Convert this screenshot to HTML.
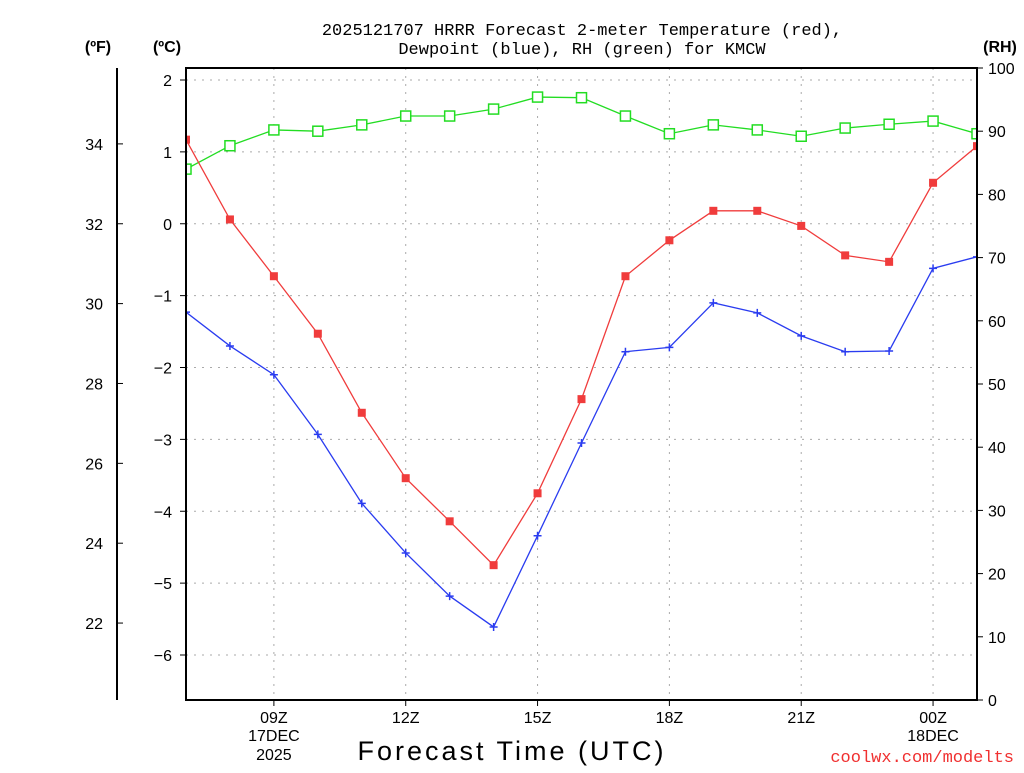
<!DOCTYPE html>
<html><head><meta charset="utf-8"><style>
body{margin:0;background:#fff}
svg text{font-family:"Liberation Sans",sans-serif}
</style></head><body>
<svg id="chart" width="1024" height="768" xmlns="http://www.w3.org/2000/svg">
<defs><clipPath id="clip"><rect x="186" y="68" width="791" height="632"/></clipPath></defs>
<g id="grid"></g>
<g id="axes"></g>
<g id="series" clip-path="url(#clip)"></g>
<rect x="186" y="68" width="791" height="632" fill="none" stroke="#000" stroke-width="2"/>
<text x="582" y="35" text-anchor="middle" font-size="17" style="font-family:'Liberation Mono',monospace">2025121707 HRRR Forecast 2-meter Temperature (red),</text>
<text x="582" y="54" text-anchor="middle" font-size="17" style="font-family:'Liberation Mono',monospace">Dewpoint (blue), RH (green) for KMCW</text>
<text x="98" y="52" text-anchor="middle" font-size="16" font-weight="bold">(ºF)</text>
<text x="167" y="52" text-anchor="middle" font-size="16" font-weight="bold">(ºC)</text>
<text x="1000" y="52" text-anchor="middle" font-size="16" font-weight="bold">(RH)</text>
<text x="512" y="760" text-anchor="middle" font-size="27" letter-spacing="3">Forecast Time (UTC)</text>
<text x="1014" y="762" text-anchor="end" font-size="17" fill="#f03030" style="font-family:'Liberation Mono',monospace">coolwx.com/modelts</text>
</svg>
<script>
const hours=[0,1,2,3,4,5,6,7,8,9,10,11,12,13,14,15,16,17,18];
const tempC=[1.17,0.06,-0.73,-1.53,-2.63,-3.54,-4.14,-4.75,-3.75,-2.44,-0.73,-0.23,0.18,0.18,-0.03,-0.44,-0.53,0.57,1.08];
const dewC=[-1.23,-1.70,-2.10,-2.93,-3.89,-4.58,-5.18,-5.61,-4.34,-3.05,-1.78,-1.72,-1.10,-1.24,-1.56,-1.78,-1.77,-0.62,-0.46];
const rh=[84.0,87.7,90.2,90.0,91.0,92.4,92.4,93.5,95.4,95.3,92.4,89.6,91.0,90.2,89.2,90.5,91.1,91.6,89.6];
const cTicks=[2,1,0,-1,-2,-3,-4,-5,-6];
const fTicks=[34,32,30,28,26,24,22];
const rhTicks=[0,10,20,30,40,50,60,70,80,90,100];
const xTickHours=[2,5,8,11,14,17];
const xTickLabels=["09Z","12Z","15Z","18Z","21Z","00Z"];
const NS="http://www.w3.org/2000/svg";
const X=h=>186+h*791/18;
const YC=c=>80+(2-c)*71.875;
const YR=r=>700-r*6.32;
const YF=f=>YC((f-32)*5/9);
function mk(tag,attrs,parent,txt){const e=document.createElementNS(NS,tag);for(const k in attrs)e.setAttribute(k,attrs[k]);if(txt!=null)e.textContent=txt;document.getElementById(parent).appendChild(e);return e;}
cTicks.forEach(c=>{
 const g=mk('line',{x1:186,x2:977,y1:YC(c),y2:YC(c),stroke:'#aaa','stroke-dasharray':'2,6'},'grid');
 
 const t=mk('line',{x1:180,x2:186,y1:YC(c),y2:YC(c),stroke:'#000'},'axes');
 
 const l=mk('text',{x:172,y:YC(c)+6,'text-anchor':'end','font-size':16},'axes',c<0?'\u2212'+(-c):String(c));
 
});
xTickHours.forEach((h,i)=>{
 const g=mk('line',{x1:X(h),x2:X(h),y1:68,y2:700,stroke:'#aaa','stroke-dasharray':'2,6'},'grid');
 
 const t=mk('line',{x1:X(h),x2:X(h),y1:700,y2:706,stroke:'#000'},'axes');
 
 const l=mk('text',{x:X(h),y:723,'text-anchor':'middle','font-size':16},'axes',xTickLabels[i]);
 
});
[["17DEC",2,741],["2025",2,760],["18DEC",17,741]].forEach(d=>{
 const l=mk('text',{x:X(d[1]),y:d[2],'text-anchor':'middle','font-size':16},'axes',d[0]);
 
});
const fa=mk('line',{x1:117,x2:117,y1:68,y2:700,stroke:'#000','stroke-width':2},'axes');

fTicks.forEach(f=>{
 const t=mk('line',{x1:117,x2:123,y1:YF(f),y2:YF(f),stroke:'#000'},'axes');
 
 const l=mk('text',{x:103,y:YF(f)+6,'text-anchor':'end','font-size':16},'axes',String(f));
 
});
rhTicks.forEach(r=>{
 const t=mk('line',{x1:977,x2:983,y1:YR(r),y2:YR(r),stroke:'#000'},'axes');
 
 const l=mk('text',{x:988,y:YR(r)+6,'text-anchor':'start','font-size':16},'axes',String(r));
 
});
function line(vals,yf,color,name){
 const p=mk('polyline',{points:vals.map((v,i)=>X(hours[i])+','+yf(v)).join(' '),fill:'none',stroke:color,'stroke-width':1.3},'series');
 
}
line(rh,YR,'#22dd22','rh');
line(tempC,YC,'#f03c3c','temperature');
line(dewC,YC,'#2a3cf0','dewpoint');
rh.forEach((v,i)=>{const m=mk('rect',{x:X(hours[i])-5,y:YR(v)-5,width:10,height:10,fill:'#fff',stroke:'#22dd22','stroke-width':1.5},'series');
 });
tempC.forEach((v,i)=>{const m=mk('rect',{x:X(hours[i])-4,y:YC(v)-4,width:8,height:8,fill:'#f03c3c'},'series');
 });
dewC.forEach((v,i)=>{const x=X(hours[i]),y=YC(v);
 const m=mk('path',{d:`M${x-4},${y}H${x+4}M${x},${y-4}V${y+4}`,stroke:'#2a3cf0','stroke-width':1.5},'series');
 });
</script>
</body></html>
